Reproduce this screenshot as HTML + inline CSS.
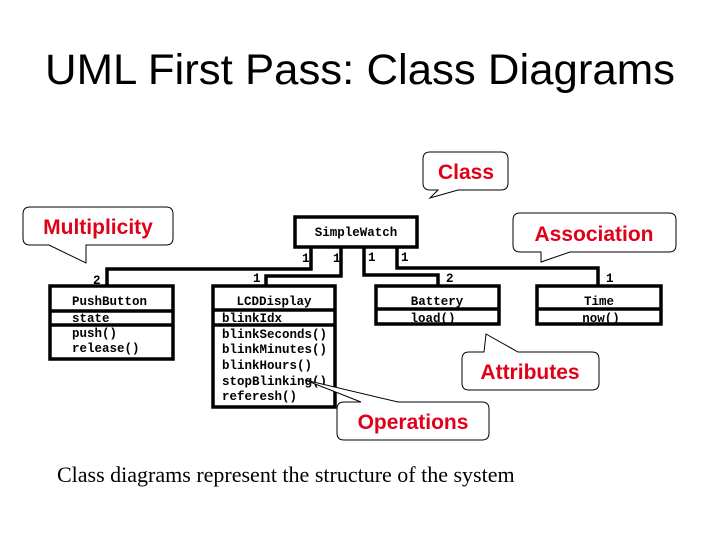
<!DOCTYPE html>
<html><head><meta charset="utf-8"><style>
html,body{margin:0;padding:0;background:#fff;}
svg{display:block}
.m{font-family:"Liberation Mono",monospace;font-weight:bold;font-size:12.5px;fill:#000}
.c{font-family:"Liberation Sans",sans-serif;font-size:21px;font-weight:bold;fill:#e0001a}
</style></head><body>
<svg width="720" height="540" viewBox="0 0 720 540" xmlns="http://www.w3.org/2000/svg">
<text x="360" y="84" text-anchor="middle" font-family="Liberation Sans, sans-serif" font-size="43" fill="#000" textLength="630" lengthAdjust="spacingAndGlyphs">UML First Pass: Class Diagrams</text>

<g fill="none" stroke="#000" stroke-width="3.5">
<rect x="295" y="217" width="122" height="30"/>
<polyline points="311,247 311,269 107,269 107,286"/>
<polyline points="341,247 341,276 266,276 266,286"/>
<polyline points="364,247 364,275 438,275 438,286"/>
<polyline points="397,247 397,268 598,268 598,286"/>
<rect x="50" y="286" width="123" height="73"/>
<line x1="50" y1="311" x2="173" y2="311"/><line x1="50" y1="325" x2="173" y2="325"/>
<rect x="213" y="286" width="122" height="121"/>
<line x1="213" y1="310" x2="335" y2="310"/><line x1="213" y1="325" x2="335" y2="325"/>
<rect x="376" y="286" width="123" height="38"/>
<line x1="376" y1="309" x2="499" y2="309"/>
<rect x="537" y="286" width="124" height="38"/>
<line x1="537" y1="309" x2="661" y2="309"/>
</g>

<text class="m" x="356" y="236" text-anchor="middle">SimpleWatch</text>
<text class="m" x="302" y="262">1</text><text class="m" x="333" y="262">1</text>
<text class="m" x="368" y="261">1</text><text class="m" x="401" y="261">1</text>
<text class="m" x="93" y="284">2</text><text class="m" x="253" y="282">1</text>
<text class="m" x="446" y="282">2</text><text class="m" x="606" y="282">1</text>

<text class="m" x="72" y="305">PushButton</text>
<text class="m" x="72" y="322">state</text>
<text class="m" x="72" y="337">push()</text>
<text class="m" x="72" y="352">release()</text>

<text class="m" x="274" y="305" text-anchor="middle">LCDDisplay</text>
<text class="m" x="222" y="322">blinkIdx</text>
<text class="m" x="222" y="338">blinkSeconds()</text>
<text class="m" x="222" y="353">blinkMinutes()</text>
<text class="m" x="222" y="369">blinkHours()</text>
<text class="m" x="222" y="385">stopBlinking()</text>
<text class="m" x="222" y="400">referesh()</text>

<text class="m" x="437" y="305" text-anchor="middle">Battery</text>
<text class="m" x="433" y="322" text-anchor="middle">load()</text>
<text class="m" x="599" y="305" text-anchor="middle">Time</text>
<text class="m" x="601" y="322" text-anchor="middle">now()</text>

<g fill="#fff" stroke="#000" stroke-width="1">
<path d="M30,207 H166 Q173,207 173,214 V238 Q173,245 166,245 H86 V263 L49,245 H30 Q23,245 23,238 V214 Q23,207 30,207 Z"/>
<path d="M430,152 H501 Q508,152 508,159 V183 Q508,190 501,190 H458 L430,198 L438,190 H430 Q423,190 423,183 V159 Q423,152 430,152 Z"/>
<path d="M520,213 H669 Q676,213 676,220 V245 Q676,252 669,252 H570 L541,262 L541,252 H520 Q513,252 513,245 V220 Q513,213 520,213 Z"/>
<path d="M469,352 H484 L486,334 L518,352 H592 Q599,352 599,359 V383 Q599,390 592,390 H469 Q462,390 462,383 V359 Q462,352 469,352 Z"/>
<path d="M344,402 H361 L305,380 L398,402 H482 Q489,402 489,409 V433 Q489,440 482,440 H344 Q337,440 337,433 V409 Q337,402 344,402 Z"/>
</g>
<text class="c" x="98" y="234" text-anchor="middle">Multiplicity</text>
<text class="c" x="466" y="179" text-anchor="middle">Class</text>
<text class="c" x="594" y="241" text-anchor="middle">Association</text>
<text class="c" x="530" y="379" text-anchor="middle">Attributes</text>
<text class="c" x="413" y="429" text-anchor="middle">Operations</text>

<text x="57" y="482" font-family="Liberation Serif, serif" font-size="22" fill="#000">Class diagrams represent the structure of the system</text>
</svg>
</body></html>
